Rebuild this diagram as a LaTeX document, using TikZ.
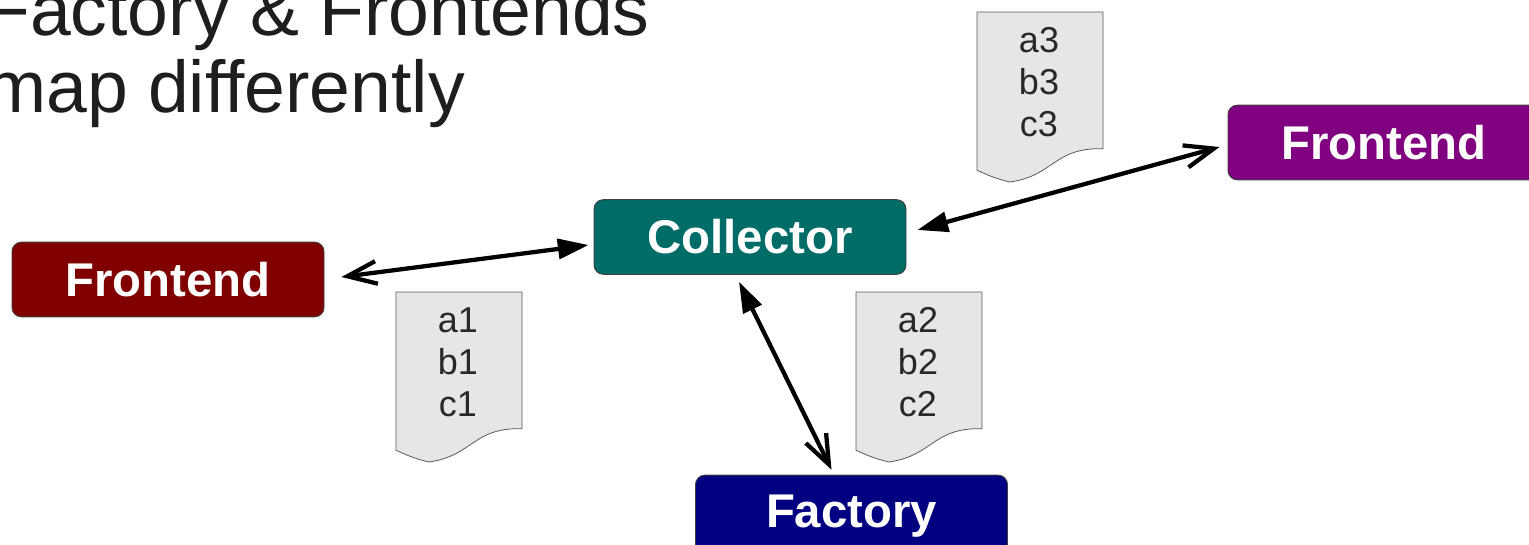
\documentclass[tikz,border=0pt]{standalone}
\usepackage{fontspec}
\setmainfont{Liberation Sans}
\usetikzlibrary{arrows.meta,calc}
\definecolor{boxred}{RGB}{128,0,0}
\definecolor{boxteal}{RGB}{0,108,104}
\definecolor{boxpurple}{RGB}{128,0,128}
\definecolor{boxnavy}{RGB}{0,0,128}
\definecolor{paperfill}{RGB}{230,230,230}
\definecolor{papertext}{RGB}{40,40,40}
\definecolor{titletext}{RGB}{30,30,30}
\tikzset{
  role/.style={draw=black!75, line width=0.7pt, rounded corners=7pt,
    minimum width=234pt, minimum height=56pt, inner sep=0pt,
    text=white, font=\fontsize{35.5}{40}\selectfont\bfseries},
  doctext/.style={align=center, text=papertext, inner sep=0pt,
    font=\fontsize{27}{31.5}\selectfont},
  titleline/.style={anchor=base west, inner sep=0pt, text=titletext,
    font=\fontsize{55}{58}\selectfont},
  link/.style={line width=3.2pt,
    {Straight Barb[length=22pt,width=17pt]}-{Triangle[length=23pt,width=15pt]}},
  paper/.pic={
    \draw[draw=black!65, fill=paperfill, line width=0.6pt]
      (0,0) -- (126,0) -- (126,136.7)
      .. controls (76.1,135.5) and (77.9,163.5) .. (32.8,170)
      .. controls (16.7,166.1) and (10.8,162.9) .. (0,158.3) -- cycle;
    \node[doctext] (-txt) at (62,70) {#1};
  }
}
\begin{document}
\begin{tikzpicture}[x=0.75pt, y=-0.75pt]
  \useasboundingbox (0,0) rectangle (1529,544);

  % heading
  \node[titleline] (title1) at (-15,35) {Factory \& Frontends};
  \node[titleline] (title2) at (-15,112) {map differently};

  % hand-over sheets
  \pic (sheet1) at (396,292) {paper={a1\\b1\\c1}};
  \pic (sheet2) at (856,292) {paper={a2\\b2\\c2}};
  \pic (sheet3) at (977,12)  {paper={a3\\b3\\c3}};

  % components
  \node[role, fill=boxred]    (lf)  at (168,279.5)  {Frontend};
  \node[role, fill=boxteal]   (col) at (750,237)    {Collector};
  \node[role, fill=boxpurple] (rf)  at (1384,142.5) {Frontend};
  \node[role, fill=boxnavy, minimum height=62pt] (fac) at (851.5,516.5) {Factory};

  % two-way links, filled tip on the collector side
  \draw[link] ($(lf.east)+(17,-2.5)$) -- ($(col.west)+(-5,8)$);
  \draw[link] ($(rf.west)+(-8,4.5)$) -- ($(col.east)+(11,-7)$);
  \draw[link] ($(fac.north)+(-20,-5)$) -- ($(col.south)+(-11,7)$);
\end{tikzpicture}
\end{document}
